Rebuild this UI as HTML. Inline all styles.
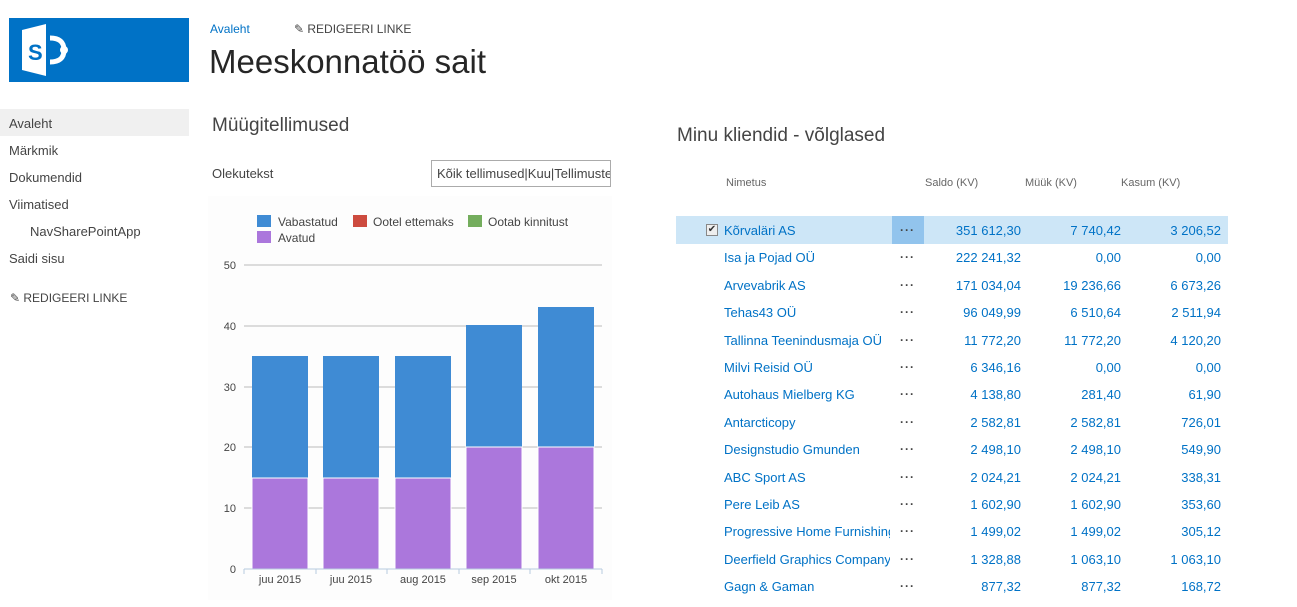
<!DOCTYPE html>
<html><head><meta charset="utf-8"><style>
*{margin:0;padding:0;box-sizing:border-box}
body{width:1297px;height:607px;background:#fff;font-family:"Segoe UI","Liberation Sans",sans-serif;position:relative;overflow:hidden;color:#444}
.a{position:absolute;white-space:nowrap}
.nav{font-size:13px;color:#444}
.t{font-size:13px;color:#0072c6}
.n{font-size:13px;color:#0072c6;text-align:right;width:120px}
.h{font-size:11px;color:#666}
.d{font-size:12px;color:#444;font-weight:bold;letter-spacing:1px}
</style></head><body>
<div class="a" style="left:9px;top:18px;width:180px;height:64px;background:#0072c6"></div>
<svg class="a" style="left:20px;top:22px" width="50" height="56"><polygon points="2,8 26,2 26,54 2,48" fill="#fff"/><text x="8" y="38" font-family="Liberation Sans" font-weight="bold" font-size="22" fill="#0072c6">S</text><path d="M30,16 Q44,16 44,28 Q44,40 30,40" stroke="#fff" stroke-width="5" fill="none"/><circle cx="44" cy="28" r="4" fill="#fff"/></svg>
<div class="a t" style="left:210px;top:22px;font-size:12px">Avaleht</div>
<div class="a" style="left:294px;top:22px;font-size:12px;color:#444">✎ REDIGEERI LINKE</div>
<div class="a" style="left:209px;top:43px;font-size:33px;color:#262626;font-weight:300">Meeskonnatöö sait</div>
<div class="a" style="left:0;top:109px;width:189px;height:27px;background:#f0f0f0"></div>
<div class="a nav" style="left:9px;top:116px">Avaleht</div>
<div class="a nav" style="left:9px;top:143px">Märkmik</div>
<div class="a nav" style="left:9px;top:170px">Dokumendid</div>
<div class="a nav" style="left:9px;top:197px">Viimatised</div>
<div class="a nav" style="left:30px;top:224px">NavSharePointApp</div>
<div class="a nav" style="left:9px;top:251px">Saidi sisu</div>
<div class="a" style="left:10px;top:291px;font-size:12px">✎ REDIGEERI LINKE</div>
<div class="a" style="left:212px;top:115px;font-size:19px;color:#444;font-weight:300">Müügitellimused</div>
<div class="a" style="left:212px;top:166px;font-size:13px">Olekutekst</div>
<div class="a" style="left:431px;top:160px;width:180px;height:27px;border:1px solid #ababab;font-size:13px;padding:5px 5px;overflow:hidden">Kõik tellimused|Kuu|Tellimuste</div>
<div class="a" style="left:208px;top:196px;width:404px;height:404px;background:#fdfdfd"></div>
<svg class="a" style="left:0;top:0" width="620" height="607" font-family="'Segoe UI','Liberation Sans',sans-serif" font-size="11" fill="#444">
<rect x="257" y="215" width="14" height="12" fill="#3f8bd4"/><text x="278" y="226" font-size="12">Vabastatud</text>
<rect x="353" y="215" width="14" height="12" fill="#cd4b3f"/><text x="373" y="226" font-size="12">Ootel ettemaks</text>
<rect x="468" y="215" width="14" height="12" fill="#74ad5d"/><text x="488" y="226" font-size="12">Ootab kinnitust</text>
<rect x="257" y="231" width="14" height="12" fill="#ab77dc"/><text x="278" y="242" font-size="12">Avatud</text>
<g stroke="#bbb"><line x1="244" x2="602" y1="265" y2="265"/><line x1="244" x2="602" y1="326" y2="326"/><line x1="244" x2="602" y1="387" y2="387"/><line x1="244" x2="602" y1="447" y2="447"/><line x1="244" x2="602" y1="508" y2="508"/></g>
<g text-anchor="end"><text x="236" y="269">50</text><text x="236" y="330">40</text><text x="236" y="391">30</text><text x="236" y="451">20</text><text x="236" y="512">10</text><text x="236" y="573">0</text></g>
<g fill="#3f8bd4"><rect x="252" y="356" width="56" height="122"/><rect x="323" y="356" width="56" height="122"/><rect x="395" y="356" width="56" height="122"/><rect x="466" y="325" width="56" height="122"/><rect x="538" y="307" width="56" height="140"/></g>
<g fill="#ab77dc" stroke="#fff" stroke-width="1"><rect x="252" y="478" width="56" height="91"/><rect x="323" y="478" width="56" height="91"/><rect x="395" y="478" width="56" height="91"/><rect x="466" y="447" width="56" height="122"/><rect x="538" y="447" width="56" height="122"/></g>
<g stroke="#b8cbe0"><line x1="244" x2="602" y1="569" y2="569"/><line x1="244" x2="244" y1="569" y2="574"/><line x1="316" x2="316" y1="569" y2="574"/><line x1="387" x2="387" y1="569" y2="574"/><line x1="459" x2="459" y1="569" y2="574"/><line x1="530" x2="530" y1="569" y2="574"/><line x1="602" x2="602" y1="569" y2="574"/></g>
<g text-anchor="middle"><text x="280" y="583">juu 2015</text><text x="351" y="583">juu 2015</text><text x="423" y="583">aug 2015</text><text x="494" y="583">sep 2015</text><text x="566" y="583">okt 2015</text></g>
</svg>
<div class="a" style="left:677px;top:125px;font-size:19px;color:#444;font-weight:300">Minu kliendid - võlglased</div>
<div class="a h" style="left:726px;top:177px">Nimetus</div>
<div class="a h" style="left:925px;top:177px">Saldo (KV)</div>
<div class="a h" style="left:1025px;top:177px">Müük (KV)</div>
<div class="a h" style="left:1121px;top:177px">Kasum (KV)</div>
<div class="a" style="left:676px;top:216px;width:552px;height:28px;background:#cde6f7"></div>
<div class="a" style="left:892px;top:216px;width:32px;height:28px;background:#92c4ed"></div>
<div class="a" style="left:706px;top:224px;width:12px;height:12px;border:1px solid #888;background:#eee;font-size:10px;line-height:10px;text-align:center;color:#333">✔</div>
<div id="rows"></div>
<script>
var r=[["Kõrvaläri AS","351 612,30","7 740,42","3 206,52"],["Isa ja Pojad OÜ","222 241,32","0,00","0,00"],["Arvevabrik AS","171 034,04","19 236,66","6 673,26"],["Tehas43 OÜ","96 049,99","6 510,64","2 511,94"],["Tallinna Teenindusmaja OÜ","11 772,20","11 772,20","4 120,20"],["Milvi Reisid OÜ","6 346,16","0,00","0,00"],["Autohaus Mielberg KG","4 138,80","281,40","61,90"],["Antarcticopy","2 582,81","2 582,81","726,01"],["Designstudio Gmunden","2 498,10","2 498,10","549,90"],["ABC Sport AS","2 024,21","2 024,21","338,31"],["Pere Leib AS","1 602,90","1 602,90","353,60"],["Progressive Home Furnishings","1 499,02","1 499,02","305,12"],["Deerfield Graphics Company","1 328,88","1 063,10","1 063,10"],["Gagn & Gaman","877,32","877,32","168,72"]];
var h="";r.forEach(function(x,i){var y=223+i*27.4;
h+='<div class="a t" style="left:724px;top:'+y+'px;width:166px;overflow:hidden">'+x[0]+'</div>';
h+='<div class="a d" style="left:900px;top:'+(y+3)+'px;line-height:8px">···</div>';
h+='<div class="a n" style="left:901px;top:'+y+'px">'+x[1]+'</div>';
h+='<div class="a n" style="left:1001px;top:'+y+'px">'+x[2]+'</div>';
h+='<div class="a n" style="left:1101px;top:'+y+'px">'+x[3]+'</div>';});
document.getElementById("rows").innerHTML=h;
</script>
</body></html>
